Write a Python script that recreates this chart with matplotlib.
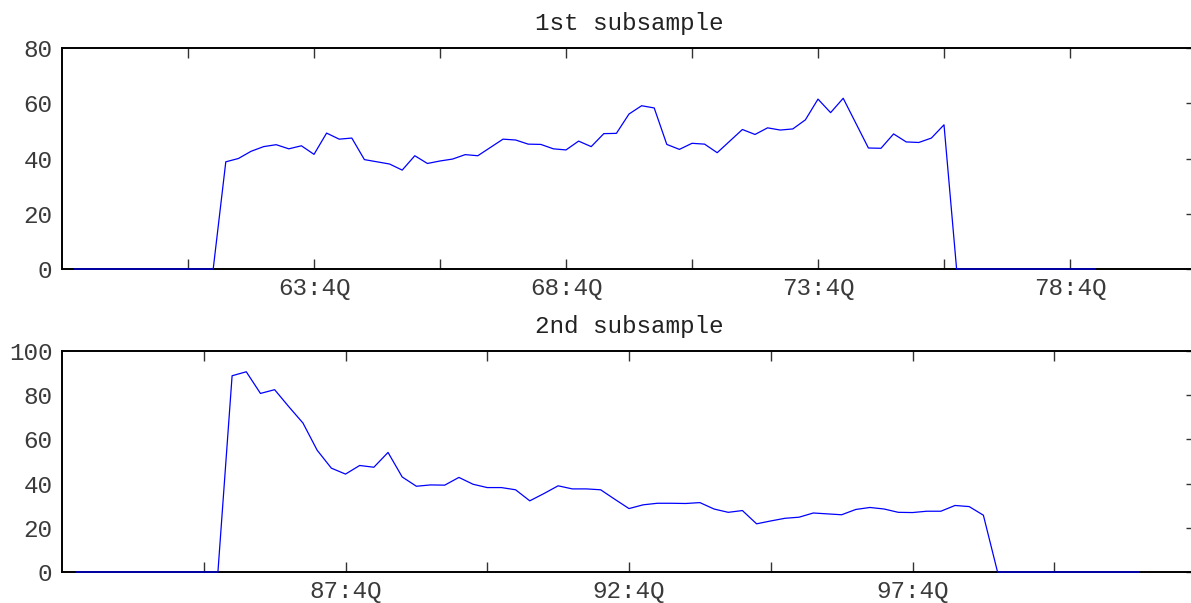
import numpy as np
import matplotlib
matplotlib.use("Agg")
import matplotlib.pyplot as plt

plt.rcParams["font.family"] = ["Liberation Mono", "DejaVu Sans Mono"]

# quarterly series, index 1 = first quarter after the left axis edge
sub1_values = [0.0] * 12 + [
    38.8, 40.0, 42.6, 44.3, 45.0, 43.5, 44.6, 41.5, 49.2, 47.0, 47.4, 39.6,
    38.8, 38.0, 35.8, 41.0, 38.2, 39.1, 39.8, 41.4, 41.0, 44.0, 47.0, 46.7,
    45.2, 45.1, 43.5, 43.1, 46.3, 44.3, 49.0, 49.1, 56.1, 59.1, 58.3, 45.1,
    43.3, 45.5, 45.2, 42.1, 46.3, 50.5, 48.7, 51.1, 50.3, 50.7, 54.0, 61.5,
    56.6, 61.8, 52.8, 43.8, 43.7, 48.9, 46.0, 45.8, 47.4, 52.2,
] + [0.0] * 12

sub2_values = [0.0] * 11 + [
    88.8, 90.6, 80.8, 82.5, 74.8, 67.4, 55.1, 47.0, 44.3, 48.2, 47.4, 54.1,
    43.0, 38.8, 39.4, 39.3, 42.8, 39.7, 38.2, 38.2, 37.2, 32.2, 35.5, 39.0,
    37.6, 37.6, 37.2, 32.9, 28.7, 30.4, 31.1, 31.1, 31.0, 31.4, 28.5, 27.0,
    27.8, 21.8, 23.1, 24.3, 24.8, 26.7, 26.3, 25.9, 28.3, 29.2, 28.5, 27.0,
    26.9, 27.5, 27.5, 30.1, 29.6, 25.7,
] + [0.0] * 11

sub1_ticklabels = ["", "63:4Q", "", "68:4Q", "", "73:4Q", "", "78:4Q"]
sub2_ticklabels = ["", "87:4Q", "", "92:4Q", "", "97:4Q", ""]

W, H = 1191, 603
FS = 17.5
fig = plt.figure(figsize=(W / 100, H / 100), dpi=100)


def panel(top_px, values, n_quarters, ticklabels, ymax, title):
    left, right, height = 62, 1196, 221
    ax = fig.add_axes([left / W, 1 - (top_px + height) / H,
                       (right - left) / W, height / H])
    x = np.arange(1, len(values) + 1)
    ax.plot(x, values, color="#0000ff", lw=0.9, zorder=3, clip_on=False)
    ax.set_xlim(0, n_quarters)
    ax.set_ylim(0, ymax)
    ax.set_xticks(np.arange(10, 10 * (len(ticklabels) + 1), 10))
    ax.set_xticklabels(ticklabels)
    ax.set_yticks(np.arange(0, ymax + 1, 20))
    ax.tick_params(axis="x", direction="in", length=7, width=1,
                   top=True, bottom=True, pad=6,
                   labelsize=FS, labelcolor="#3a3a3a", color="#333333")
    ax.tick_params(axis="y", direction="in", length=7, width=1,
                   left=False, right=True, labelleft=True, pad=7,
                   labelsize=FS, labelcolor="#3a3a3a", color="#333333")
    for s in ax.spines.values():
        s.set_linewidth(1.4)
    ax.set_title(title, fontsize=FS, color="#222222", pad=13)
    return ax


panel(48, sub1_values, 90, sub1_ticklabels, 80, "1st subsample")
panel(351, sub2_values, 80, sub2_ticklabels, 100, "2nd subsample")

fig.savefig("out.png", dpi=100)
